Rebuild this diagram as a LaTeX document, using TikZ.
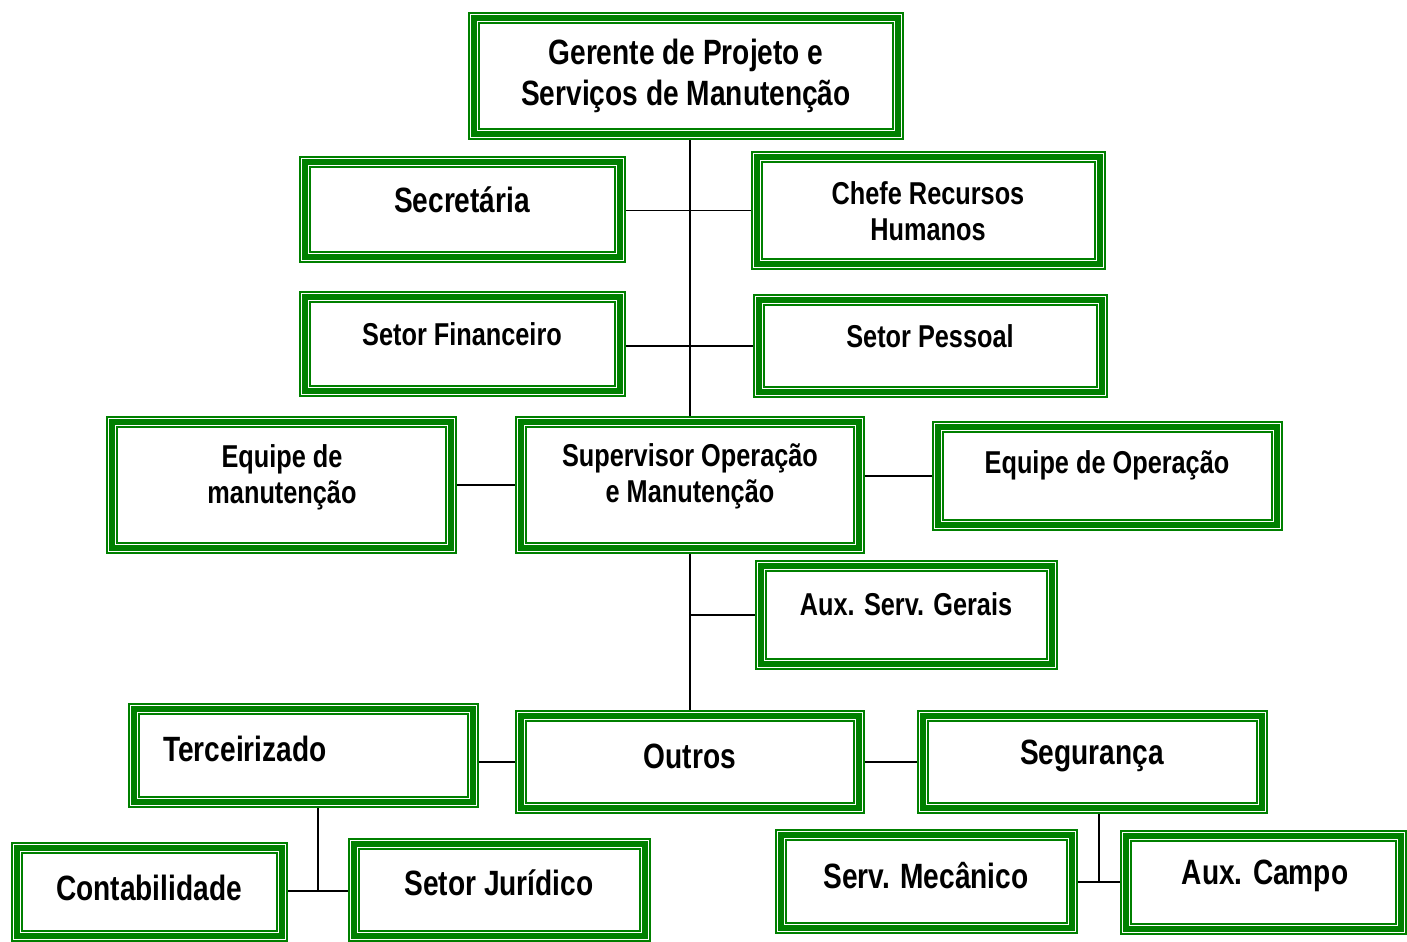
\documentclass[tikz,border=0pt]{standalone}
\usepackage{fontspec}
\newfontfamily\orgfont[FakeStretch=0.8]{Liberation Sans}
\usetikzlibrary{calc}
\definecolor{boxgreen}{RGB}{0,128,0}
\begin{document}
\begin{tikzpicture}[x=0.02cm, y=-0.02cm,
  box/.style={draw=boxgreen, line width=6.8pt, outer sep=0.12cm, inner sep=0pt,
    postaction={draw=white, line width=4.9pt},
    postaction={draw=boxgreen, line width=3pt}},
  txt/.style={align=center, inner sep=0pt, font=\orgfont\bfseries\fontsize{20}{23.5}\selectfont},
  stxt/.style={txt, font=\orgfont\bfseries\fontsize{18}{20.5}\selectfont},
  conn/.style={draw=black, line width=0.8pt}]
\useasboundingbox (0,0) rectangle (1407,942);
\node[box, minimum width=8.48cm, minimum height=2.32cm] (gerente) at (686,76){};
\node[box, minimum width=6.30cm, minimum height=1.90cm] (secretaria) at (462.5,209.5){};
\node[box, minimum width=6.86cm, minimum height=2.14cm] (chefe) at (928.5,210.5){};
\node[box, minimum width=6.30cm, minimum height=1.88cm] (financeiro) at (462.5,344){};
\node[box, minimum width=6.86cm, minimum height=1.84cm] (pessoal) at (930.5,346){};
\node[box, minimum width=6.78cm, minimum height=2.52cm] (eqmanut) at (281.5,485){};
\node[box, minimum width=6.76cm, minimum height=2.52cm] (supervisor) at (690,485){};
\node[box, minimum width=6.78cm, minimum height=1.96cm] (eqoper) at (1107.5,476){};
\node[box, minimum width=5.82cm, minimum height=1.96cm] (auxserv) at (906.5,615){};
\node[box, minimum width=6.78cm, minimum height=1.86cm] (terceirizado) at (303.5,755.5){};
\node[box, minimum width=6.76cm, minimum height=1.84cm] (outros) at (690,762){};
\node[box, minimum width=6.78cm, minimum height=1.84cm] (seguranca) at (1092.5,762){};
\node[box, minimum width=5.30cm, minimum height=1.76cm] (contab) at (149.5,892){};
\node[box, minimum width=5.82cm, minimum height=1.84cm] (juridico) at (499.5,890){};
\node[box, minimum width=5.82cm, minimum height=1.86cm] (mecanico) at (926.5,881.5){};
\node[box, minimum width=5.50cm, minimum height=1.86cm] (auxcampo) at (1263.5,882.5){};
\node[txt] (gerente-t) at (686,76){Gerente de Projeto e\\Serviços de Manutenção};
\node[txt] (secretaria-t) at (462,200){Secretária};
\node[stxt] (chefe-t) at (928,211){Chefe Recursos\\Humanos};
\node[stxt] (financeiro-t) at (462,334){Setor Financeiro};
\node[stxt] (pessoal-t) at (930,336){Setor Pessoal};
\node[stxt] (eqmanut-t) at (282,477){Equipe de\\manutenção};
\node[stxt] (supervisor-t) at (690,476){Supervisor Operação\\e Manutenção};
\node[stxt] (eqoper-t) at (1107,465){Equipe de Operação};
\node[stxt] (auxserv-t) at (906,604){Aux. Serv. Gerais};
\node[txt] (terceirizado-t) at (245,749){Terceirizado};
\node[txt] (outros-t) at (690,756){Outros};
\node[txt] (seguranca-t) at (1092,756){Segurança};
\node[txt] (contab-t) at (149,888){Contabilidade};
\node[txt] (juridico-t) at (499,883){Setor Jurídico};
\node[txt] (mecanico-t) at (926,876){Serv. Mecânico};
\node[txt] (auxcampo-t) at (1265,876){Aux. Campo};
\coordinate (tjoin) at ($(contab.east)!.5!(juridico.west)$);
\coordinate (sjoin) at ($(mecanico.east)!.5!(auxcampo.west)$);
\draw[conn] (supervisor.north |- gerente.south) -- (supervisor.north);
\draw[conn] (secretaria.east |- chefe.west) -- (chefe.west);
\draw[conn] (financeiro.east |- pessoal.west) -- (pessoal.west);
\draw[conn] (eqmanut.east) -- (supervisor.west);
\draw[conn] (supervisor.east |- eqoper.west) -- (eqoper.west);
\draw[conn] (supervisor.south) -- (outros.north);
\draw[conn] (supervisor.south |- auxserv.west) -- (auxserv.west);
\draw[conn] (terceirizado.east |- outros.west) -- (outros.west);
\draw[conn] (outros.east) -- (seguranca.west);
\draw[conn] (contab.east |- tjoin) -- (juridico.west |- tjoin);
\draw[conn] (tjoin |- terceirizado.south) -- (tjoin);
\draw[conn] (mecanico.east |- sjoin) -- (auxcampo.west |- sjoin);
\draw[conn] (sjoin |- seguranca.south) -- (sjoin);
\end{tikzpicture}
\end{document}
